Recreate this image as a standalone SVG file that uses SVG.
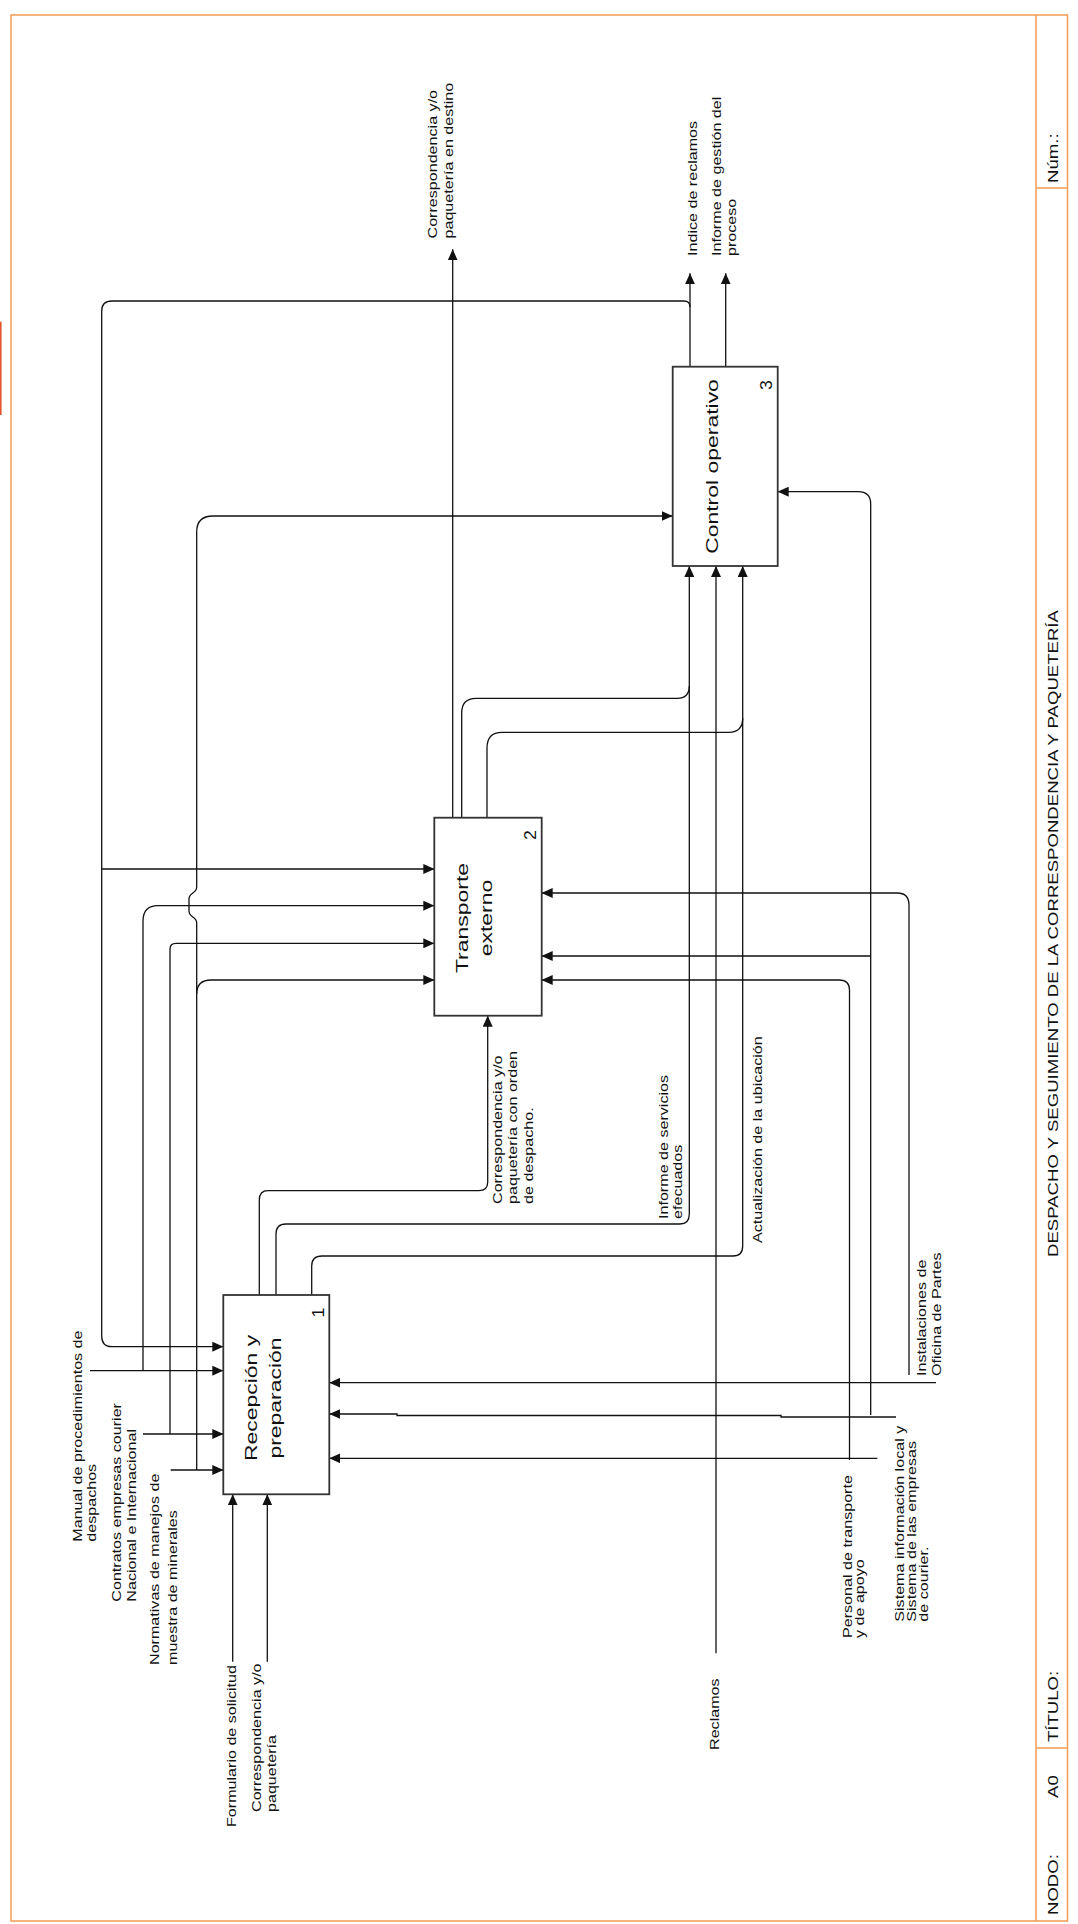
<svg xmlns="http://www.w3.org/2000/svg" width="1078" height="1924" viewBox="0 0 1078 1924">
  <style>
    .frame { fill: none; stroke: #F4A15C; stroke-width: 1.6; }
    .box { fill: #fff; stroke: #333; stroke-width: 1.8; }
    .wire { fill: none; stroke: #111; stroke-width: 1.3; }
    .arr { marker-end: url(#head); }
    .lbl { font-family: "Liberation Sans", Arial, sans-serif; font-size: 13px; fill: #111; }
    .blbl { font-family: "Liberation Sans", Arial, sans-serif; font-size: 17px; fill: #111; text-anchor: middle; }
    .num { font-family: "Liberation Sans", Arial, sans-serif; font-size: 16px; fill: #111; text-anchor: middle; }
    .ttl { font-family: "Liberation Sans", Arial, sans-serif; font-size: 15px; fill: #111; }
  </style>
  <defs>
    <marker id="head" markerUnits="userSpaceOnUse" markerWidth="11" markerHeight="10" refX="11" refY="5" orient="auto">
      <path d="M0,0 L11,5 L0,10 Z" fill="#111"/>
    </marker>
  </defs>

  <rect width="1078" height="1924" fill="#fff"/>

  <!-- sheet frame and title strip -->
  <g id="frame">
    <rect class="frame" x="11" y="15" width="1056.5" height="1906"/>
    <line class="frame" x1="1036" y1="15" x2="1036" y2="1921"/>
    <line class="frame" x1="1036" y1="188" x2="1067.5" y2="188"/>
    <line class="frame" x1="1036" y1="1748" x2="1067.5" y2="1748"/>
    <rect x="0" y="321.7" width="1.6" height="93.3" fill="#E4572E"/>
    <text class="ttl" transform="translate(1057.5,183) rotate(-90) scale(1.24,1)">Núm.:</text>
    <text class="ttl" transform="translate(1057.5,1257) rotate(-90) scale(1.24,1)">DESPACHO Y SEGUIMIENTO DE LA CORRESPONDENCIA Y PAQUETERÍA</text>
    <text class="ttl" transform="translate(1057.5,1742) rotate(-90) scale(1.24,1)">TÍTULO:</text>
    <text class="ttl" transform="translate(1057.5,1798) rotate(-90) scale(1.24,1)">A0</text>
    <text class="ttl" transform="translate(1057.5,1915) rotate(-90) scale(1.24,1)">NODO:</text>
  </g>

  <!-- connectors -->
  <g id="connectors">
    <!-- inputs of activity 1 -->
    <path class="wire arr" d="M232.7,1661.7 V1494.3"/>
    <path class="wire arr" d="M267.3,1661.7 V1494.3"/>

    <!-- feedback from activity 3 -->
    <path class="wire arr" d="M690,307 Q690,301 684,301 H112 Q101.7,301 101.7,311 V1336 Q101.7,1346.7 112,1346.7 H223.3"/>
    <path class="wire arr" d="M101.7,869 H434.3"/>

    <!-- controls -->
    <path class="wire arr" d="M90,1370.7 H223.3"/>
    <path class="wire arr" d="M143,1370.7 V921 Q143,905.7 158,905.7 H434.3"/>
    <path class="wire arr" d="M143,1434 H223.3"/>
    <path class="wire arr" d="M170,1434 V949 Q170,943.3 176,943.3 H434.3"/>
    <path class="wire arr" d="M170.7,1470 H223.3"/>
    <path class="wire arr" d="M196.7,1470 V994 Q196.7,980 211,980 H434.3"/>
    <path class="wire arr" d="M196.7,994 V923 C196.7,916 189,918 189,911 V899 C189,892 196.7,894 196.7,887 V532 Q196.7,516 213,516 H672.7"/>

    <!-- mechanisms -->
    <path class="wire arr" d="M936,1382.7 H329.3"/>
    <path class="wire arr" d="M909,1375 V905 Q909,893 897,893 H541.7"/>
    <path class="wire arr" d="M896,1417 H781 V1415.5 H397 V1414 H329.3"/>
    <path class="wire arr" d="M870.7,1415 V504 Q870.7,491.7 858,491.7 H777.7"/>
    <path class="wire arr" d="M870.7,956 H541.7"/>
    <path class="wire arr" d="M877.3,1458.3 H329.3"/>
    <path class="wire arr" d="M849.5,1460 V990 Q849.5,980 839,980 H541.7"/>

    <!-- outputs of activity 1 -->
    <path class="wire arr" d="M259.3,1295 V1200 Q259.3,1190.7 268,1190.7 H479 Q487.7,1190.7 487.7,1182 V1015.7"/>
    <path class="wire arr" d="M276,1295 V1234 Q276,1224 286,1224 H680 Q689.3,1224 689.3,1214 V566"/>
    <path class="wire arr" d="M311.7,1295 V1266 Q311.7,1256 322,1256 H733 Q742.7,1256 742.7,1246 V566"/>

    <!-- outputs of activity 2 -->
    <path class="wire arr" d="M452.7,817.7 V249.3"/>
    <path class="wire" d="M461.7,817.7 V713 Q461.7,698.3 476,698.3 H677 Q689.3,698.3 689.3,686"/>
    <path class="wire" d="M487,817.7 V748 Q487,732.3 502,732.3 H729 Q742.7,732.3 742.7,718"/>

    <!-- claims input -->
    <path class="wire arr" d="M716,1653.3 V566"/>

    <!-- outputs of activity 3 -->
    <path class="wire arr" d="M690,366.7 V273.3"/>
    <path class="wire arr" d="M725.7,366.7 V273.3"/>
  </g>

  <!-- activities -->
  <g id="node-1">
    <rect class="box" x="223.3" y="1295" width="106" height="199.3"/>
    <text class="blbl" transform="translate(257,1398) rotate(-90) scale(1.35,1)"><tspan x="0" y="0">Recepción y</tspan><tspan x="0" y="24">preparación</tspan></text>
    <text class="num" transform="translate(323.5,1312.5) rotate(-90) scale(1.1,1)">1</text>
  </g>
  <g id="node-2">
    <rect class="box" x="434.3" y="817.7" width="107.4" height="198"/>
    <text class="blbl" transform="translate(468,918) rotate(-90) scale(1.35,1)"><tspan x="0" y="0">Transporte</tspan><tspan x="0" y="24.5">externo</tspan></text>
    <text class="num" transform="translate(536,835) rotate(-90) scale(1.1,1)">2</text>
  </g>
  <g id="node-3">
    <rect class="box" x="672.7" y="366.7" width="105" height="199.3"/>
    <text class="blbl" transform="translate(718,466.5) rotate(-90) scale(1.35,1)">Control operativo</text>
    <text class="num" transform="translate(771.7,385) rotate(-90) scale(1.1,1)">3</text>
  </g>

  <!-- arrow labels -->
  <g id="labels">
    <text class="lbl" transform="translate(437,238.5) rotate(-90) scale(1.24,1)"><tspan x="0" y="0">Correspondencia y/o</tspan><tspan x="0" y="16">paquetería en destino</tspan></text>
    <text class="lbl" transform="translate(697,256) rotate(-90) scale(1.24,1)">Indice de reclamos</text>
    <text class="lbl" transform="translate(721,256) rotate(-90) scale(1.24,1)"><tspan x="0" y="0">Informe de gestión del</tspan><tspan x="0" y="15">proceso</tspan></text>
    <text class="lbl" transform="translate(502,1204) rotate(-90) scale(1.24,1)"><tspan x="0" y="0">Correspondencia y/o</tspan><tspan x="0" y="15.5">paquetería con orden</tspan><tspan x="0" y="31">de despacho.</tspan></text>
    <text class="lbl" transform="translate(668,1219) rotate(-90) scale(1.24,1)"><tspan x="0" y="0">Informe de servicios</tspan><tspan x="0" y="14.5">efecuados</tspan></text>
    <text class="lbl" transform="translate(761.5,1243) rotate(-90) scale(1.24,1)">Actualización de la ubicación</text>
    <text class="lbl" transform="translate(926,1376) rotate(-90) scale(1.24,1)"><tspan x="0" y="0">Instalaciones de</tspan><tspan x="0" y="15">Oficina de Partes</tspan></text>
    <text class="lbl" transform="translate(852,1638) rotate(-90) scale(1.24,1)"><tspan x="0" y="0">Personal de transporte</tspan><tspan x="0" y="12">y de apoyo</tspan></text>
    <text class="lbl" transform="translate(904,1621.7) rotate(-90) scale(1.24,1)"><tspan x="0" y="0">Sistema información local y</tspan><tspan x="0" y="12.5">Sistema de las empresas</tspan><tspan x="0" y="24">de courier.</tspan></text>
    <text class="lbl" transform="translate(82,1541.7) rotate(-90) scale(1.24,1)"><tspan x="0" y="0">Manual de procedimientos de</tspan><tspan x="0" y="14.5">despachos</tspan></text>
    <text class="lbl" transform="translate(121,1601.7) rotate(-90) scale(1.24,1)"><tspan x="0" y="0">Contratos empresas courier</tspan><tspan x="0" y="15.5">Nacional e Internacional</tspan></text>
    <text class="lbl" transform="translate(159,1665) rotate(-90) scale(1.24,1)"><tspan x="0" y="0">Normativas de manejos de</tspan><tspan x="0" y="18">muestra de minerales</tspan></text>
    <text class="lbl" transform="translate(235.5,1827) rotate(-90) scale(1.24,1)">Formulario de solicitud</text>
    <text class="lbl" transform="translate(260.5,1812) rotate(-90) scale(1.24,1)"><tspan x="0" y="0">Correspondencia y/o</tspan><tspan x="0" y="15.5">paquetería</tspan></text>
    <text class="lbl" transform="translate(718.5,1750) rotate(-90) scale(1.24,1)">Reclamos</text>
  </g>
</svg>
